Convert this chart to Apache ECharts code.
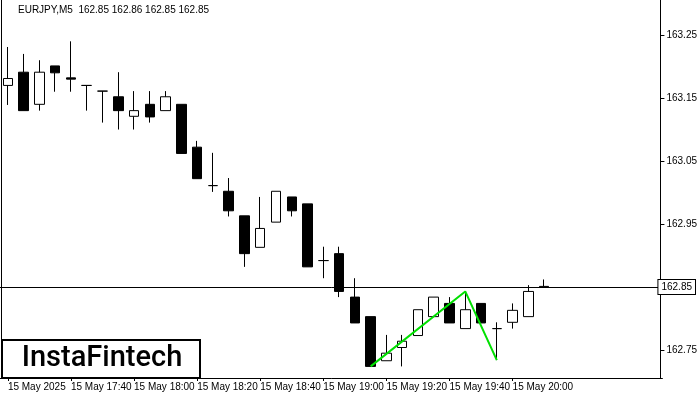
<!DOCTYPE html>
<html><head><meta charset="utf-8">
<script src="https://cdn.jsdelivr.net/npm/echarts@6/dist/echarts.min.js"></script>
<style>html,body{margin:0;padding:0;background:#fff}#c{width:700px;height:400px}</style>
</head><body><div id="c"></div>
<script>
// time labels (5-minute bars)
const times = ["17:20","17:25","17:30","17:35","17:40","17:45","17:50","17:55","18:00","18:05","18:10","18:15","18:20","18:25","18:30","18:35","18:40","18:45","18:50","18:55","19:00","19:05","19:10","19:15","19:20","19:25","19:30","19:35","19:40","19:45","19:50","19:55","20:00","20:05","20:10","20:15","20:20","20:25","20:30","20:35","20:40","20:45"];
const lastLabelIndex = 32;
// [open, close, low, high]
const opens  = [163.170,163.191,163.140,163.201,163.182,163.170,163.161,163.152,163.121,163.140,163.130,163.140,163.072,163.011,163.002,162.963,162.913,162.953,162.993,162.982,162.892,162.903,162.834,162.803,162.733,162.754,162.773,162.803,162.824,162.784,162.824,162.784,162.794,162.803,162.850];
const closes = [163.181,163.130,163.191,163.190,163.180,163.170,163.161,163.130,163.130,163.120,163.152,163.062,163.022,163.011,162.971,162.903,162.943,163.002,162.971,162.882,162.892,162.843,162.793,162.724,162.745,162.764,162.814,162.834,162.793,162.814,162.793,162.784,162.813,162.843,162.851];
const lows   = [163.139,163.130,163.130,163.160,163.160,163.130,163.111,163.100,163.100,163.111,163.130,163.062,163.022,163.001,162.962,162.882,162.913,162.953,162.962,162.882,162.864,162.834,162.793,162.724,162.733,162.724,162.773,162.803,162.793,162.784,162.793,162.734,162.784,162.803,162.850];
const highs  = [163.231,163.220,163.210,163.201,163.240,163.170,163.161,163.191,163.161,163.161,163.161,163.140,163.082,163.063,163.023,162.963,162.993,163.002,162.993,162.982,162.914,162.914,162.864,162.803,162.774,162.774,162.814,162.834,162.834,162.843,162.824,162.794,162.824,162.853,162.862];
// pattern line points: [index, price]
const patternPts = [[23,162.724],[29,162.843],[31,162.734]];
const yTicks = [162.75,162.95,163.05,163.15,163.25];
const currentPrice = 162.853;
const title = "EURJPY,M5  162.85 162.86 162.85 162.85";

const candles = opens.map((o,i)=>[o,closes[i],lows[i],highs[i]]);
const pattern = times.map(()=>null);
patternPts.forEach(p=>pattern[p[0]]=p[1]);

const chart = echarts.init(document.getElementById('c'));
const F = 'Liberation Sans';
chart.setOption({
  animation:false,
  backgroundColor:'#fff',
  grid:{left:-4,right:33,top:0,bottom:22},
  xAxis:{type:'category',data:times,boundaryGap:true,
    axisLine:{lineStyle:{color:'#000'}},
    axisTick:{show:true,interval:(i)=>i%4===0 && i<=lastLabelIndex,alignWithLabel:true,length:3,lineStyle:{color:'#000'}},
    axisLabel:{interval:(i)=>i%4===0 && i<=lastLabelIndex,align:'left',color:'#000',fontFamily:F,fontSize:10,margin:4,
      formatter:(v,i)=> i===0 ? '15 May 2025' : '15 May '+v},
    splitLine:{show:false}},
  yAxis:{type:'value',position:'right',offset:-2,min:162.7056,max:163.3056,scale:true,
    axisLine:{show:true,lineStyle:{color:'#000'}},
    axisTick:{show:true,customValues:yTicks,length:4,lineStyle:{color:'#000'}},
    axisLabel:{customValues:yTicks,color:'#000',fontFamily:F,fontSize:10,margin:6,formatter:v=>v.toFixed(2)},
    splitLine:{show:false}},
  graphic:[
    {type:'line',shape:{x1:1.5,y1:0,x2:1.5,y2:378},style:{stroke:'#000',lineWidth:1}},
    {type:'text',left:18,top:5,style:{text:title,font:'10px '+F,fill:'#000'}},
    {type:'rect',shape:{x:2,y:340,width:198,height:38},style:{fill:'#fff',stroke:'#000',lineWidth:2},z:100},
    {type:'text',x:102,y:359,style:{text:'InstaFintech',font:'500 29px Roboto',fill:'#000',align:'center',verticalAlign:'middle'},z:101}
  ],
  series:[
    {type:'candlestick',data:candles,barWidth:10,
      itemStyle:{color:'#fff',color0:'#000',borderColor:'#000',borderColor0:'#000',borderWidth:1},
      markLine:{symbol:'none',silent:true,animation:false,
        lineStyle:{color:'#000',width:1,type:'solid'},
        label:{position:'end',formatter:'162.85',color:'#000',fontFamily:F,fontSize:10,
          backgroundColor:'#fff',borderColor:'#000',borderWidth:1,padding:[2,3],distance:-4},
        data:[{yAxis:currentPrice}]}},
    {type:'line',data:pattern,connectNulls:true,symbol:'none',
      lineStyle:{color:'#00e000',width:2},z:5}
  ]
});
</script></body></html>
